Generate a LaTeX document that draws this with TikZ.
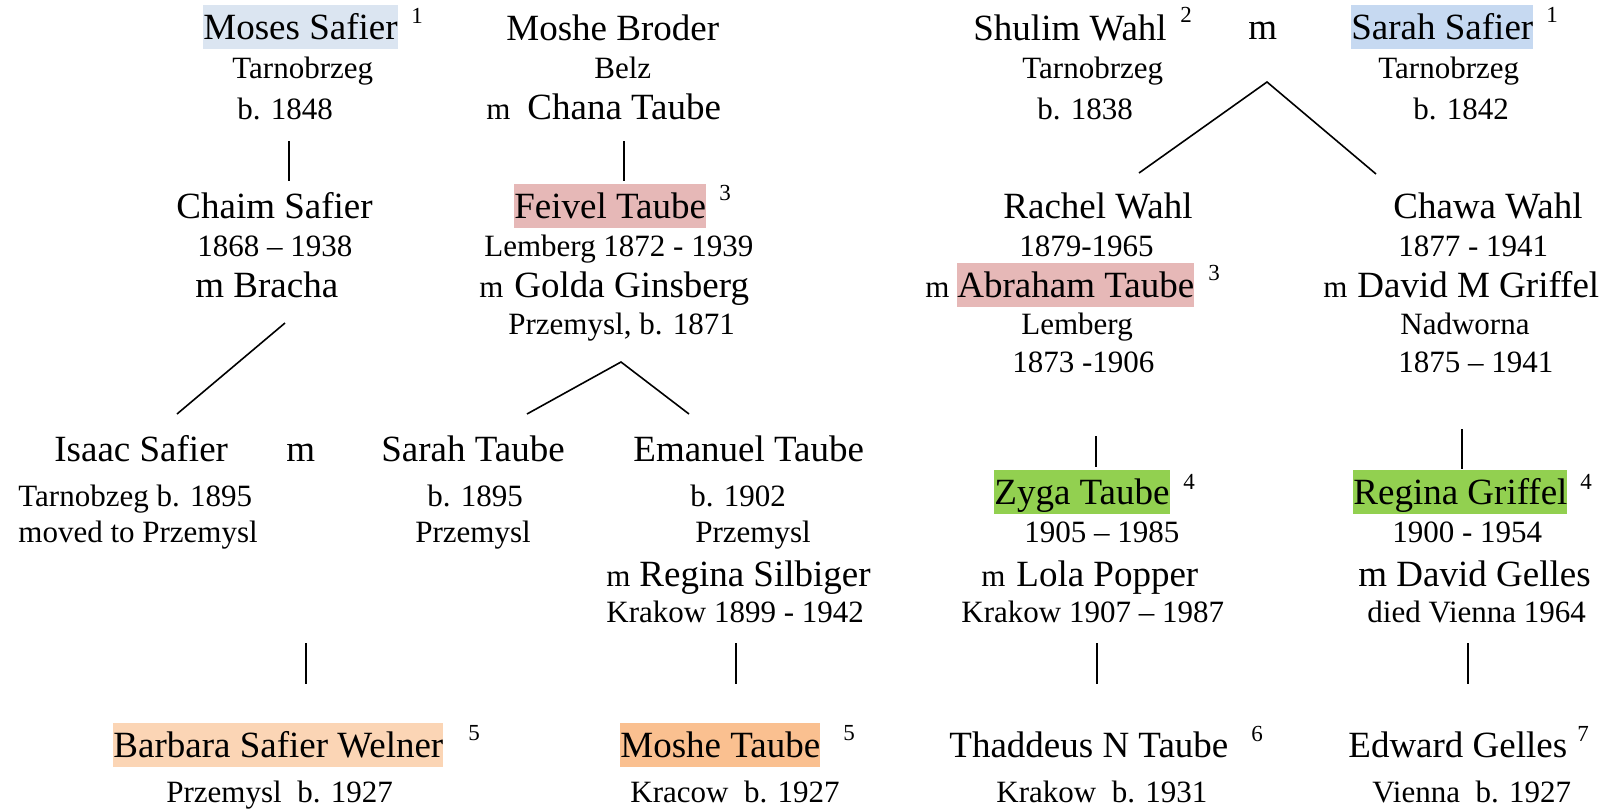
\documentclass[tikz,border=0pt]{standalone}
\usepackage{fontspec}
\setmainfont{Liberation Serif}
\newcommand{\namefont}{\fontsize{18.5}{22}\selectfont}
\newcommand{\infofont}{\fontsize{15.5}{19}\selectfont}
\newcommand{\notefont}{\fontsize{11.5}{13}\selectfont}
\definecolor{mosesblue}{HTML}{DBE5F1}
\definecolor{sarahblue}{HTML}{C6D9F1}
\definecolor{taubered}{HTML}{E6B8B7}
\definecolor{griffelgreen}{HTML}{92D050}
\definecolor{barbaraorange}{HTML}{FBD5B5}
\definecolor{moshorange}{HTML}{FAC090}
\begin{document}
\begin{tikzpicture}[x=0.5pt,y=-0.5pt,
    pname/.style={anchor=base west,inner sep=0pt,font=\namefont},
    pinfo/.style={anchor=base west,inner sep=0pt,font=\infofont},
    pnote/.style={anchor=base west,inner sep=0pt,font=\notefont},
    hilite/.style={fill=#1,text height=17pt,text depth=5pt},
    link/.style={line width=0.8pt}]
    \useasboundingbox (0,0) rectangle (1607,809);
    % first generation
    \node[pname,hilite=mosesblue] (moses) at (203,39) {Moses Safier};
    \node[pnote] (mosesFn) at (411,23) {1};
    \node[pinfo] (mosesPl) at (232,78) {Tarnobrzeg};
    \node[pinfo] (mosesYr) at (237,119) {b. 1848};
    \node[pname] (moshe) at (506,40) {Moshe Broder};
    \node[pinfo] (moshePl) at (594,78) {Belz};
    \node[pinfo] (chanaM) at (486,119) {m};
    \node[pname] (chana) at (527,119) {Chana Taube};
    \node[pname] (shulim) at (973,40) {Shulim Wahl};
    \node[pnote] (shulimFn) at (1180,22) {2};
    \node[pinfo] (shulimPl) at (1022,78) {Tarnobrzeg};
    \node[pinfo] (shulimYr) at (1037,119) {b. 1838};
    \node[pname] (wahlM) at (1248,39) {m};
    \node[pname,hilite=sarahblue] (sarah) at (1351,39) {Sarah Safier};
    \node[pnote] (sarahFn) at (1546,22) {1};
    \node[pinfo] (sarahPl) at (1378,78) {Tarnobrzeg};
    \node[pinfo] (sarahYr) at (1413,119) {b. 1842};
    % second generation
    \node[pname] (chaim) at (176,218) {Chaim Safier};
    \node[pinfo] (chaimYr) at (197,256) {1868 -- 1938};
    \node[pname] (bracha) at (195,297) {m Bracha};
    \node[pname,hilite=taubered] (feivel) at (514,218) {Feivel Taube};
    \node[pnote] (feivelFn) at (719,200) {3};
    \node[pinfo] (feivelYr) at (484,256) {Lemberg 1872 - 1939};
    \node[pinfo] (goldaM) at (479,297) {m};
    \node[pname] (golda) at (514,297) {Golda Ginsberg};
    \node[pinfo] (goldaYr) at (508,334) {Przemysl, b. 1871};
    \node[pname] (rachel) at (1003,218) {Rachel Wahl};
    \node[pinfo] (rachelYr) at (1019,256) {1879-1965};
    \node[pinfo] (abrahamM) at (925,297) {m};
    \node[pname,hilite=taubered] (abraham) at (957,297) {Abraham Taube};
    \node[pnote] (abrahamFn) at (1208,280) {3};
    \node[pinfo] (abrahamPl) at (1021,334) {Lemberg};
    \node[pinfo] (abrahamYr) at (1012,372) {1873 -1906};
    \node[pname] (chawa) at (1393,218) {Chawa Wahl};
    \node[pinfo] (chawaYr) at (1398,256) {1877 - 1941};
    \node[pinfo] (griffelM) at (1323,297) {m};
    \node[pname] (griffel) at (1357,297) {David M Griffel};
    \node[pinfo] (griffelPl) at (1400,334) {Nadworna};
    \node[pinfo] (griffelYr) at (1398,372) {1875 -- 1941};
    % third generation
    \node[pname] (isaac) at (54,461) {Isaac Safier};
    \node[pname] (isaacM) at (286,461) {m};
    \node[pinfo] (isaacYr) at (18,506) {Tarnobzeg b. 1895};
    \node[pinfo] (isaacPl) at (18,542) {moved to Przemysl};
    \node[pname] (sarahT) at (381,461) {Sarah Taube};
    \node[pinfo] (sarahTYr) at (427,506) {b. 1895};
    \node[pinfo] (sarahTPl) at (415,542) {Przemysl};
    \node[pname] (emanuel) at (633,461) {Emanuel Taube};
    \node[pinfo] (emanuelYr) at (690,506) {b. 1902};
    \node[pinfo] (emanuelPl) at (695,542) {Przemysl};
    \node[pinfo] (silbigerM) at (606,586) {m};
    \node[pname] (silbiger) at (639,586) {Regina Silbiger};
    \node[pinfo] (silbigerYr) at (606,622) {Krakow 1899 - 1942};
    \node[pname,hilite=griffelgreen] (zyga) at (994,504) {Zyga Taube};
    \node[pnote] (zygaFn) at (1183,489) {4};
    \node[pinfo] (zygaYr) at (1024,542) {1905 -- 1985};
    \node[pinfo] (lolaM) at (981,586) {m};
    \node[pname] (lola) at (1016,586) {Lola Popper};
    \node[pinfo] (lolaYr) at (961,622) {Krakow 1907 -- 1987};
    \node[pname,hilite=griffelgreen] (regina) at (1353,504) {Regina Griffel};
    \node[pnote] (reginaFn) at (1580,489) {4};
    \node[pinfo] (reginaYr) at (1392,542) {1900 - 1954};
    \node[pname] (gelles) at (1358,586) {m David Gelles};
    \node[pinfo] (gellesYr) at (1367,622) {died Vienna 1964};
    % fourth generation
    \node[pname,hilite=barbaraorange] (barbara) at (113,757) {Barbara Safier Welner};
    \node[pnote] (barbaraFn) at (468,740) {5};
    \node[pinfo] (barbaraYr) at (166,802) {Przemysl\ \ b. 1927};
    \node[pname,hilite=moshorange] (mosheT) at (620,757) {Moshe Taube};
    \node[pnote] (mosheTFn) at (843,740) {5};
    \node[pinfo] (mosheTYr) at (630,802) {Kracow\ \ b. 1927};
    \node[pname] (thaddeus) at (949,757) {Thaddeus N Taube};
    \node[pnote] (thaddeusFn) at (1251,741) {6};
    \node[pinfo] (thaddeusYr) at (996,802) {Krakow\ \ b. 1931};
    \node[pname] (edward) at (1348,757) {Edward Gelles};
    \node[pnote] (edwardFn) at (1577,741) {7};
    \node[pinfo] (edwardYr) at (1372,802) {Vienna\ \ b. 1927};
    % line ends
    \coordinate (mosesDn) at (289,141);
    \coordinate (chaimUp) at (289,181);
    \coordinate (chanaDn) at (624,141);
    \coordinate (feivelUp) at (624,181);
    \coordinate (wahlDn) at (1267,82);
    \coordinate (rachelUp) at (1139,173);
    \coordinate (chawaUp) at (1376,174);
    \coordinate (brachaDn) at (285,323);
    \coordinate (isaacUp) at (177,414);
    \coordinate (goldaDn) at (621,362);
    \coordinate (sarahTUp) at (527,414);
    \coordinate (emanuelUp) at (689,414);
    \coordinate (rachelDn) at (1096,436);
    \coordinate (zygaUp) at (1096,467);
    \coordinate (chawaDn) at (1462,429);
    \coordinate (reginaUp) at (1462,469);
    \coordinate (isaacDn) at (306,643);
    \coordinate (barbaraUp) at (306,684);
    \coordinate (silbigerDn) at (736,643);
    \coordinate (mosheTUp) at (736,684);
    \coordinate (lolaDn) at (1097,643);
    \coordinate (thaddeusUp) at (1097,684);
    \coordinate (gellesDn) at (1468,643);
    \coordinate (edwardUp) at (1468,684);
    % lines
    \draw[link] (mosesDn) -- (chaimUp);
    \draw[link] (chanaDn) -- (feivelUp);
    \draw[link] (rachelUp) -- (wahlDn) -- (chawaUp);
    \draw[link] (brachaDn) -- (isaacUp);
    \draw[link] (sarahTUp) -- (goldaDn) -- (emanuelUp);
    \draw[link] (rachelDn) -- (zygaUp);
    \draw[link] (chawaDn) -- (reginaUp);
    \draw[link] (isaacDn) -- (barbaraUp);
    \draw[link] (silbigerDn) -- (mosheTUp);
    \draw[link] (lolaDn) -- (thaddeusUp);
    \draw[link] (gellesDn) -- (edwardUp);
\end{tikzpicture}
\end{document}
